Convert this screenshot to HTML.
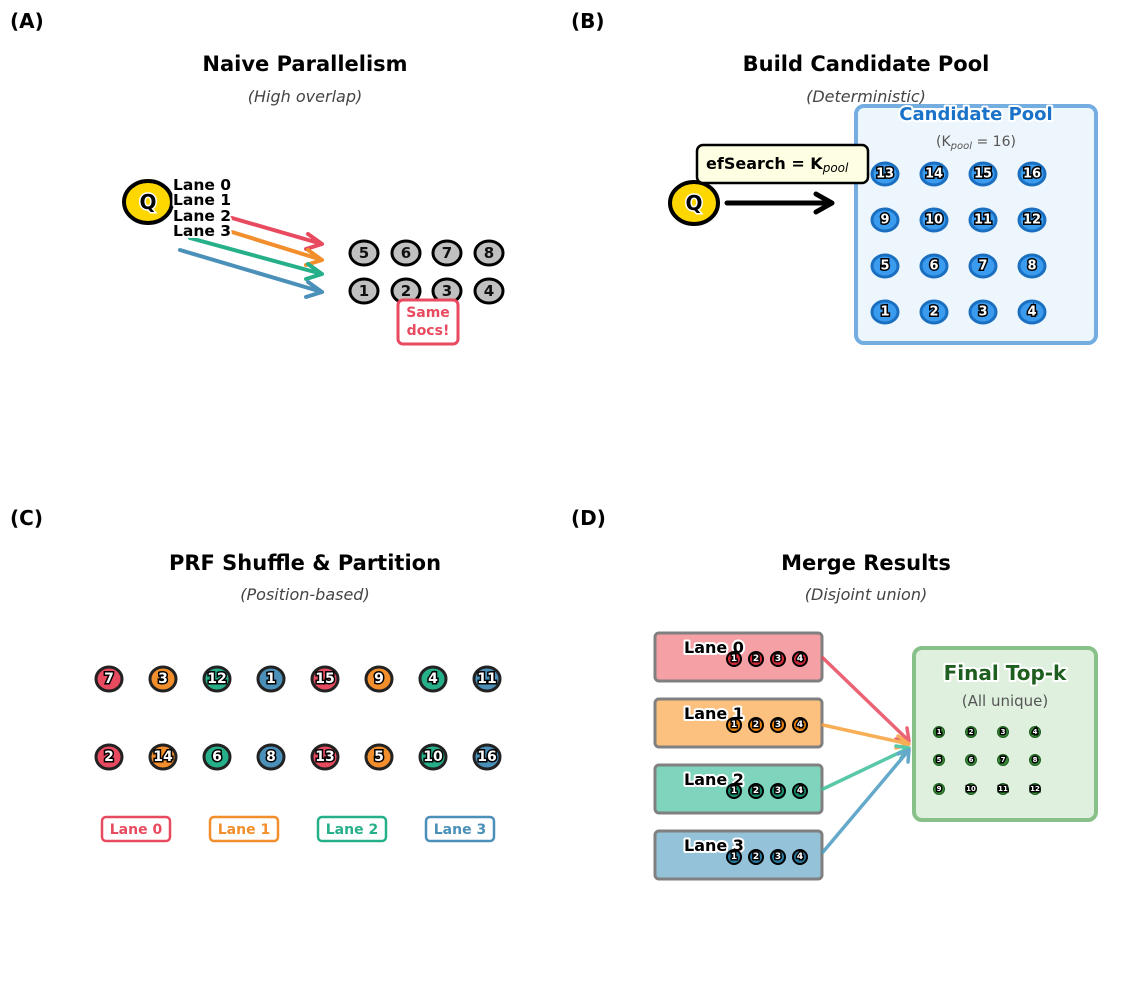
<!DOCTYPE html>
<html><head><meta charset="utf-8"><style>
html,body{margin:0;padding:0;background:#fff}
svg{display:block}
text{font-family:"DejaVu Sans","Liberation Sans",sans-serif}
.h{font-weight:bold;font-size:20px;fill:#000}
.t{font-weight:bold;font-size:21px;text-anchor:middle}
.s{font-style:italic;font-size:16px;fill:#444;text-anchor:middle}
.n{font-weight:bold;text-anchor:middle;fill:#fff;stroke:#000;stroke-width:3;paint-order:stroke;dominant-baseline:central}
.q{font-weight:bold;text-anchor:middle;fill:#000;stroke:#fff;stroke-width:3;paint-order:stroke;dominant-baseline:central}
.g{font-weight:bold;text-anchor:middle;fill:#111;dominant-baseline:central;font-size:15px}
.halo{paint-order:stroke;stroke:#fff;stroke-width:4;stroke-linejoin:round}
</style></head><body>
<svg width="1121" height="997" viewBox="0 0 1121 997" xmlns="http://www.w3.org/2000/svg">
<text class="h" x="10" y="28">(A)</text>
<text class="h" x="571" y="28">(B)</text>
<text class="h" x="10" y="525">(C)</text>
<text class="h" x="571" y="525">(D)</text>

<!-- A -->
<text class="t" x="305" y="71">Naive Parallelism</text>
<text class="s" x="305" y="102">(High overlap)</text>
<g stroke-width="4" fill="none" stroke-linecap="round" stroke-linejoin="round">
<path d="M232 218 L322 244 M308 234 L322 244 L306 249" stroke="#e84a5f"/>
<path d="M232 232 L322 260 M308 250 L322 260 L306 265" stroke="#f28e2b"/>
<path d="M190 238 L322 274 M308 264 L322 274 L306 279" stroke="#26b08a"/>
<path d="M180 250 L322 292 M308 282 L322 292 L306 297" stroke="#4a90b8"/>
</g>
<ellipse cx="148" cy="202" rx="24" ry="21" fill="#ffd700" stroke="#000" stroke-width="4"/>
<text class="q" x="148" y="202" font-size="20">Q</text>
<g font-weight="bold" font-size="15.5" fill="#000" class="halo">
<text x="173" y="190">Lane 0</text><text x="173" y="205">Lane 1</text>
<text x="173" y="221">Lane 2</text><text x="173" y="236">Lane 3</text>
</g>
<g fill="#c0c0c0" stroke="#000" stroke-width="3">
<ellipse cx="364" cy="253" rx="14" ry="12"/><ellipse cx="406" cy="253" rx="14" ry="12"/><ellipse cx="447" cy="253" rx="14" ry="12"/><ellipse cx="489" cy="253" rx="14" ry="12"/>
<ellipse cx="364" cy="291" rx="14" ry="12"/><ellipse cx="406" cy="291" rx="14" ry="12"/><ellipse cx="447" cy="291" rx="14" ry="12"/><ellipse cx="489" cy="291" rx="14" ry="12"/>
</g>
<g class="g"><text x="364" y="253">5</text><text x="406" y="253">6</text><text x="447" y="253">7</text><text x="489" y="253">8</text>
<text x="364" y="291">1</text><text x="406" y="291">2</text><text x="447" y="291">3</text><text x="489" y="291">4</text></g>
<rect x="398" y="300" width="60" height="44" rx="5" fill="#fff" stroke="#e84a5f" stroke-width="3"/>
<text x="428" y="317" text-anchor="middle" font-weight="bold" font-size="14" fill="#e84a5f">Same</text>
<text x="428" y="335" text-anchor="middle" font-weight="bold" font-size="14" fill="#e84a5f">docs!</text>

<!-- B -->
<text class="t" x="866" y="71">Build Candidate Pool</text>
<text class="s" x="866" y="102">(Deterministic)</text>
<rect x="856" y="106" width="240" height="237" rx="8" fill="#eef6fd" stroke="#74ade0" stroke-width="4"/>
<text x="976" y="120" text-anchor="middle" font-weight="bold" font-size="18" fill="#1a73c8" class="halo">Candidate Pool</text>
<text x="976" y="146" text-anchor="middle" font-size="14" fill="#555">(K<tspan font-style="italic" font-size="10" dy="3">pool</tspan><tspan dy="-3"> = 16)</tspan></text>
<g fill="#3b9cef" stroke="#1a6fc0" stroke-width="3">
<ellipse cx="885" cy="174" rx="13" ry="11"/><ellipse cx="934" cy="174" rx="13" ry="11"/><ellipse cx="983" cy="174" rx="13" ry="11"/><ellipse cx="1032" cy="174" rx="13" ry="11"/>
<ellipse cx="885" cy="220" rx="13" ry="11"/><ellipse cx="934" cy="220" rx="13" ry="11"/><ellipse cx="983" cy="220" rx="13" ry="11"/><ellipse cx="1032" cy="220" rx="13" ry="11"/>
<ellipse cx="885" cy="266" rx="13" ry="11"/><ellipse cx="934" cy="266" rx="13" ry="11"/><ellipse cx="983" cy="266" rx="13" ry="11"/><ellipse cx="1032" cy="266" rx="13" ry="11"/>
<ellipse cx="885" cy="312" rx="13" ry="11"/><ellipse cx="934" cy="312" rx="13" ry="11"/><ellipse cx="983" cy="312" rx="13" ry="11"/><ellipse cx="1032" cy="312" rx="13" ry="11"/>
</g>
<g class="n" font-size="13">
<text x="885" y="174">13</text><text x="934" y="174">14</text><text x="983" y="174">15</text><text x="1032" y="174">16</text>
<text x="885" y="220">9</text><text x="934" y="220">10</text><text x="983" y="220">11</text><text x="1032" y="220">12</text>
<text x="885" y="266">5</text><text x="934" y="266">6</text><text x="983" y="266">7</text><text x="1032" y="266">8</text>
<text x="885" y="312">1</text><text x="934" y="312">2</text><text x="983" y="312">3</text><text x="1032" y="312">4</text>
</g>
<path d="M727 203 L830 203 M816 194 L832 203 L816 212" stroke="#000" stroke-width="5" fill="none" stroke-linecap="round" stroke-linejoin="round"/>
<ellipse cx="694" cy="203" rx="24" ry="21" fill="#ffd700" stroke="#000" stroke-width="4"/>
<text class="q" x="694" y="203" font-size="20">Q</text>
<rect x="697" y="145" width="171" height="38" rx="6" fill="#fefee2" stroke="#000" stroke-width="2.5"/>
<text x="706" y="169" font-weight="bold" font-size="16" fill="#000">efSearch = K<tspan font-style="italic" font-weight="normal" font-size="12" dy="3">pool</tspan></text>

<!-- C -->
<text class="t" x="305" y="570">PRF Shuffle &amp; Partition</text>
<text class="s" x="305" y="600">(Position-based)</text>
<g stroke="#222" stroke-width="3">
<ellipse cx="109" cy="679" rx="13" ry="12" fill="#e84a5f"/><ellipse cx="163" cy="679" rx="13" ry="12" fill="#f28e2b"/><ellipse cx="217" cy="679" rx="13" ry="12" fill="#26b08a"/><ellipse cx="271" cy="679" rx="13" ry="12" fill="#4a90b8"/>
<ellipse cx="325" cy="679" rx="13" ry="12" fill="#e84a5f"/><ellipse cx="379" cy="679" rx="13" ry="12" fill="#f28e2b"/><ellipse cx="433" cy="679" rx="13" ry="12" fill="#26b08a"/><ellipse cx="487" cy="679" rx="13" ry="12" fill="#4a90b8"/>
<ellipse cx="109" cy="757" rx="13" ry="12" fill="#e84a5f"/><ellipse cx="163" cy="757" rx="13" ry="12" fill="#f28e2b"/><ellipse cx="217" cy="757" rx="13" ry="12" fill="#26b08a"/><ellipse cx="271" cy="757" rx="13" ry="12" fill="#4a90b8"/>
<ellipse cx="325" cy="757" rx="13" ry="12" fill="#e84a5f"/><ellipse cx="379" cy="757" rx="13" ry="12" fill="#f28e2b"/><ellipse cx="433" cy="757" rx="13" ry="12" fill="#26b08a"/><ellipse cx="487" cy="757" rx="13" ry="12" fill="#4a90b8"/>
</g>
<g class="n" font-size="14">
<text x="109" y="679">7</text><text x="163" y="679">3</text><text x="217" y="679">12</text><text x="271" y="679">1</text>
<text x="325" y="679">15</text><text x="379" y="679">9</text><text x="433" y="679">4</text><text x="487" y="679">11</text>
<text x="109" y="757">2</text><text x="163" y="757">14</text><text x="217" y="757">6</text><text x="271" y="757">8</text>
<text x="325" y="757">13</text><text x="379" y="757">5</text><text x="433" y="757">10</text><text x="487" y="757">16</text>
</g>
<g fill="#fff" stroke-width="2.5">
<rect x="102" y="817" width="68" height="24" rx="4" stroke="#e84a5f"/>
<rect x="210" y="817" width="68" height="24" rx="4" stroke="#f28e2b"/>
<rect x="318" y="817" width="68" height="24" rx="4" stroke="#26b08a"/>
<rect x="426" y="817" width="68" height="24" rx="4" stroke="#4a90b8"/>
</g>
<g font-weight="bold" font-size="14" text-anchor="middle">
<text x="136" y="834" fill="#e84a5f">Lane 0</text><text x="244" y="834" fill="#f28e2b">Lane 1</text>
<text x="352" y="834" fill="#26b08a">Lane 2</text><text x="460" y="834" fill="#4a90b8">Lane 3</text>
</g>

<!-- D -->
<text class="t" x="866" y="570">Merge Results</text>
<text class="s" x="866" y="600">(Disjoint union)</text>
<g stroke="#808080" stroke-width="3">
<rect x="655" y="633" width="167" height="48" rx="4" fill="#f4a0a5"/>
<rect x="655" y="699" width="167" height="48" rx="4" fill="#fcc07f"/>
<rect x="655" y="765" width="167" height="48" rx="4" fill="#7fd4bd"/>
<rect x="655" y="831" width="167" height="48" rx="4" fill="#94c2d8"/>
</g>
<g stroke-width="3.5" fill="none" stroke-linecap="round" stroke-linejoin="round" opacity="0.85">
<path d="M823 658 L909 741 M907 728 L909 741 L896 739" stroke="#e84a5f"/>
<path d="M823 725 L909 744 M898 736 L909 744 L896 748" stroke="#f7a03a"/>
<path d="M823 789 L909 748 M896 746 L909 748 L901 758" stroke="#3bbf9a"/>
<path d="M823 852 L909 750 M898 754 L909 750 L908 762" stroke="#4a9bc0"/>
</g>
<g font-weight="bold" font-size="16" fill="#000" class="halo">
<text x="684" y="653">Lane 0</text><text x="684" y="719">Lane 1</text><text x="684" y="785">Lane 2</text><text x="684" y="851">Lane 3</text>
</g>
<g stroke="#000" stroke-width="2">
<circle cx="734" cy="659" r="7" fill="#d62b3a"/><circle cx="756" cy="659" r="7" fill="#d62b3a"/><circle cx="778" cy="659" r="7" fill="#d62b3a"/><circle cx="800" cy="659" r="7" fill="#d62b3a"/>
<circle cx="734" cy="725" r="7" fill="#e8800a"/><circle cx="756" cy="725" r="7" fill="#e8800a"/><circle cx="778" cy="725" r="7" fill="#e8800a"/><circle cx="800" cy="725" r="7" fill="#e8800a"/>
<circle cx="734" cy="791" r="7" fill="#1a9070"/><circle cx="756" cy="791" r="7" fill="#1a9070"/><circle cx="778" cy="791" r="7" fill="#1a9070"/><circle cx="800" cy="791" r="7" fill="#1a9070"/>
<circle cx="734" cy="857" r="7" fill="#2a7aa0"/><circle cx="756" cy="857" r="7" fill="#2a7aa0"/><circle cx="778" cy="857" r="7" fill="#2a7aa0"/><circle cx="800" cy="857" r="7" fill="#2a7aa0"/>
</g>
<g class="n" font-size="9" stroke-width="2">
<text x="734" y="659">1</text><text x="756" y="659">2</text><text x="778" y="659">3</text><text x="800" y="659">4</text>
<text x="734" y="725">1</text><text x="756" y="725">2</text><text x="778" y="725">3</text><text x="800" y="725">4</text>
<text x="734" y="791">1</text><text x="756" y="791">2</text><text x="778" y="791">3</text><text x="800" y="791">4</text>
<text x="734" y="857">1</text><text x="756" y="857">2</text><text x="778" y="857">3</text><text x="800" y="857">4</text>
</g>
<rect x="914" y="648" width="182" height="172" rx="8" fill="#dff0df" stroke="#88c08a" stroke-width="4"/>
<text x="1005" y="680" text-anchor="middle" font-weight="bold" font-size="20" fill="#1e5e1e" class="halo">Final Top-k</text>
<text x="1005" y="706" text-anchor="middle" font-size="15" fill="#555">(All unique)</text>
<g fill="#3a8a3a" stroke="#1e5e1e" stroke-width="1">
<circle cx="939" cy="732" r="5.5"/><circle cx="971" cy="732" r="5.5"/><circle cx="1003" cy="732" r="5.5"/><circle cx="1035" cy="732" r="5.5"/>
<circle cx="939" cy="760" r="5.5"/><circle cx="971" cy="760" r="5.5"/><circle cx="1003" cy="760" r="5.5"/><circle cx="1035" cy="760" r="5.5"/>
<circle cx="939" cy="789" r="5.5"/><circle cx="971" cy="789" r="5.5"/><circle cx="1003" cy="789" r="5.5"/><circle cx="1035" cy="789" r="5.5"/>
</g>
<g class="n" font-size="7" stroke-width="1.5">
<text x="939" y="732">1</text><text x="971" y="732">2</text><text x="1003" y="732">3</text><text x="1035" y="732">4</text>
<text x="939" y="760">5</text><text x="971" y="760">6</text><text x="1003" y="760">7</text><text x="1035" y="760">8</text>
<text x="939" y="789">9</text><text x="971" y="789">10</text><text x="1003" y="789">11</text><text x="1035" y="789">12</text>
</g>
</svg>
</body></html>
